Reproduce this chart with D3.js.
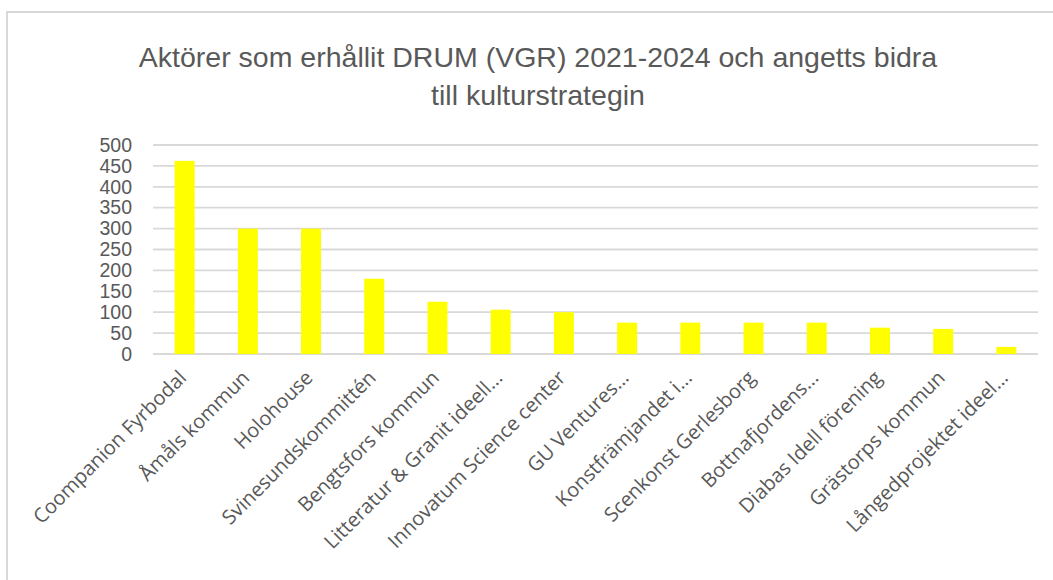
<!DOCTYPE html>
<html><head><meta charset="utf-8">
<script src="https://cdn.jsdelivr.net/npm/d3@7"></script>
<style>body{margin:0;background:#fff;}svg{display:block;}</style>
</head><body>
<svg id="c" width="1053" height="580"></svg>
<script>
const categories = ["Coompanion Fyrbodal","Åmåls kommun","Holohouse","Svinesundskommittén","Bengtsfors kommun","Litteratur & Granit ideell...","Innovatum Science center","GU Ventures...","Konstfrämjandet i...","Scenkonst Gerlesborg","Bottnafjordens...","Diabas Idell förening","Grästorps kommun","Långedprojektet ideel..."];
const values = [462,300,300,180,125,106,100,75,75,75,75,63,60,17];
const yTicks = [0,50,100,150,200,250,300,350,400,450,500];
const titleLines = ["Aktörer som erhållit DRUM (VGR) 2021-2024 och angetts bidra","till kulturstrategin"];

const svg = d3.select("#c");
svg.append("rect").attr("x",7).attr("y",12).attr("width",1100).attr("height",700)
  .attr("fill","#fff").attr("stroke","#d9d9d9").attr("stroke-width",2);

const x = d3.scaleBand().domain(categories).range([153,1038]).paddingInner(0.684).paddingOuter(0.342);
const y = d3.scaleLinear().domain([0,500]).range([354,145]);

svg.append("g").selectAll("line").data(yTicks).join("line")
  .attr("x1",153).attr("x2",1038).attr("y1",d=>y(d)).attr("y2",d=>y(d))
  .attr("stroke","#d9d9d9").attr("stroke-width",1.8);

svg.append("g").selectAll("rect").data(values).join("rect")
  .attr("x",(d,i)=>x(categories[i])).attr("width",x.bandwidth())
  .attr("y",d=>y(d)).attr("height",d=>y(0)-y(d)).attr("fill","#ffff00");

const yAxis = d3.axisLeft(y).tickValues(yTicks).tickSize(0).tickPadding(0);
const ya = svg.append("g").attr("transform","translate(132,0)").call(yAxis);
ya.select(".domain").remove();
ya.selectAll("text").attr("font-family","'Liberation Sans', sans-serif")
  .attr("font-size",19.5).attr("fill","#595959");

const xAxis = d3.axisBottom(x).tickSize(0).tickPadding(0);
const xa = svg.append("g").attr("transform","translate(0,368)").call(xAxis);
xa.select(".domain").remove();
xa.selectAll("text")
  .attr("font-family","'Open Sans', sans-serif").attr("font-size",20).attr("fill","#595959")
  .attr("text-anchor","end").attr("dy","0.35em")
  .attr("transform","translate(-2,6) rotate(-45)");

svg.append("g").selectAll("text").data(titleLines).join("text")
  .attr("x",538).attr("y",(d,i)=>67+i*38).attr("text-anchor","middle")
  .attr("font-family","'Liberation Sans', sans-serif")
  .attr("font-size",28.5).attr("fill","#595959").text(d=>d);
</script>
</body></html>
